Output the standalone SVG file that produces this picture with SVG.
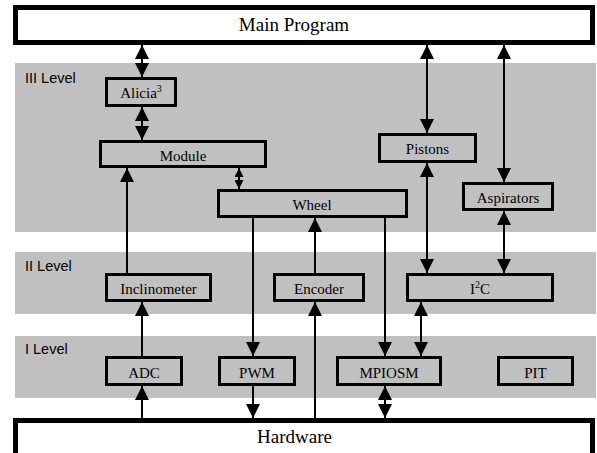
<svg xmlns="http://www.w3.org/2000/svg" width="597" height="453" viewBox="0 0 597 453">
<style>
.band{fill:#c0c0c0}
.big{fill:#fff;stroke:#000;stroke-width:5}
.box{fill:none;stroke:#000;stroke-width:3}
.t{font-family:"Liberation Serif","Times New Roman",serif;font-size:15px;fill:#000;text-anchor:middle}
.tb{font-family:"Liberation Serif","Times New Roman",serif;font-size:19px;fill:#000;text-anchor:middle}
.lv{font-family:"Liberation Sans",Arial,sans-serif;font-size:14.5px;fill:#000}
.c{stroke:#000;stroke-width:2;fill:none}
.a{marker-end:url(#ah)}
.d{marker-start:url(#ah);marker-end:url(#ah)}
.ds{marker-start:url(#as);marker-end:url(#as)}
</style>
<defs>
<marker id="ah" markerUnits="userSpaceOnUse" markerWidth="14" markerHeight="14" refX="14" refY="7" orient="auto-start-reverse" viewBox="0 0 14 14">
<path d="M0,0 L14,7 L0,14 z" fill="#000"/>
</marker>
<marker id="as" markerUnits="userSpaceOnUse" markerWidth="9" markerHeight="9" refX="9" refY="4.5" orient="auto-start-reverse" viewBox="0 0 9 9">
<path d="M0,0 L9,4.5 L0,9 z" fill="#000"/>
</marker>
</defs>

<g id="bands">
<rect class="band" x="15" y="63" width="581" height="169"/>
<rect class="band" x="15" y="252" width="581" height="62"/>
<rect class="band" x="15" y="336" width="581" height="62"/>
<text class="lv" x="25" y="83">III Level</text>
<text class="lv" x="25" y="271">II Level</text>
<text class="lv" x="25" y="354">I Level</text>
</g>

<g id="main">
<rect class="big" x="15.5" y="7.5" width="577" height="35"/>
<text class="tb" x="294" y="31">Main Program</text>
</g>
<g id="hardware">
<rect class="big" x="15.5" y="420.5" width="577" height="45"/>
<text class="tb" x="294.5" y="443">Hardware</text>
</g>

<g id="alicia">
<rect class="box" x="106.5" y="78.5" width="69" height="27"/>
<text class="t" x="141" y="98">Alicia<tspan font-size="10" dy="-6">3</tspan></text>
</g>
<g id="module">
<rect class="box" x="100.5" y="141.5" width="165" height="25"/>
<text class="t" x="183" y="161">Module</text>
</g>
<g id="wheel">
<rect class="box" x="218.5" y="190.5" width="188" height="26"/>
<text class="t" x="312" y="210">Wheel</text>
</g>
<g id="pistons">
<rect class="box" x="379.5" y="134.5" width="96" height="27"/>
<text class="t" x="427.5" y="154">Pistons</text>
</g>
<g id="aspirators">
<rect class="box" x="463.5" y="183.5" width="89" height="26"/>
<text class="t" x="508" y="203">Aspirators</text>
</g>
<g id="inclinometer">
<rect class="box" x="106.5" y="274.5" width="104" height="26"/>
<text class="t" x="158.5" y="294">Inclinometer</text>
</g>
<g id="encoder">
<rect class="box" x="274.5" y="274.5" width="89" height="26"/>
<text class="t" x="319" y="294">Encoder</text>
</g>
<g id="i2c">
<rect class="box" x="407.5" y="274.5" width="145" height="26"/>
<text class="t" x="480" y="294">I<tspan font-size="10" dy="-6">2</tspan><tspan dy="6">C</tspan></text>
</g>
<g id="adc">
<rect class="box" x="106.5" y="357.5" width="75" height="27"/>
<text class="t" x="144" y="378">ADC</text>
</g>
<g id="pwm">
<rect class="box" x="219.5" y="357.5" width="75" height="27"/>
<text class="t" x="257" y="378">PWM</text>
</g>
<g id="mpiosm">
<rect class="box" x="337.5" y="357.5" width="103" height="27"/>
<text class="t" x="389" y="378">MPIOSM</text>
</g>
<g id="pit">
<rect class="box" x="498.5" y="357.5" width="74" height="27"/>
<text class="t" x="535.5" y="378">PIT</text>
</g>

<g id="connectors">
<line class="c d" x1="142" y1="45" x2="142" y2="77"/>
<line class="c d" x1="142" y1="107" x2="142" y2="140"/>
<line class="c ds" x1="239" y1="168" x2="239" y2="189"/>
<line class="c a" x1="127" y1="273" x2="127" y2="168"/>
<line class="c a" x1="253" y1="218" x2="253" y2="356"/>
<line class="c a" x1="315" y1="273" x2="315" y2="218"/>
<line class="c a" x1="385" y1="218" x2="385" y2="356"/>
<line class="c d" x1="427" y1="45" x2="427" y2="133"/>
<line class="c d" x1="504" y1="45" x2="504" y2="182"/>
<line class="c d" x1="427" y1="163" x2="427" y2="273"/>
<line class="c d" x1="504" y1="211" x2="504" y2="273"/>
<line class="c d" x1="421" y1="302" x2="421" y2="356"/>
<line class="c a" x1="142" y1="356" x2="142" y2="302"/>
<line class="c a" x1="142" y1="418" x2="142" y2="386"/>
<line class="c a" x1="253" y1="386" x2="253" y2="418"/>
<line class="c a" x1="315" y1="418" x2="315" y2="302"/>
<line class="c d" x1="385" y1="386" x2="385" y2="418"/>
</g>
</svg>
